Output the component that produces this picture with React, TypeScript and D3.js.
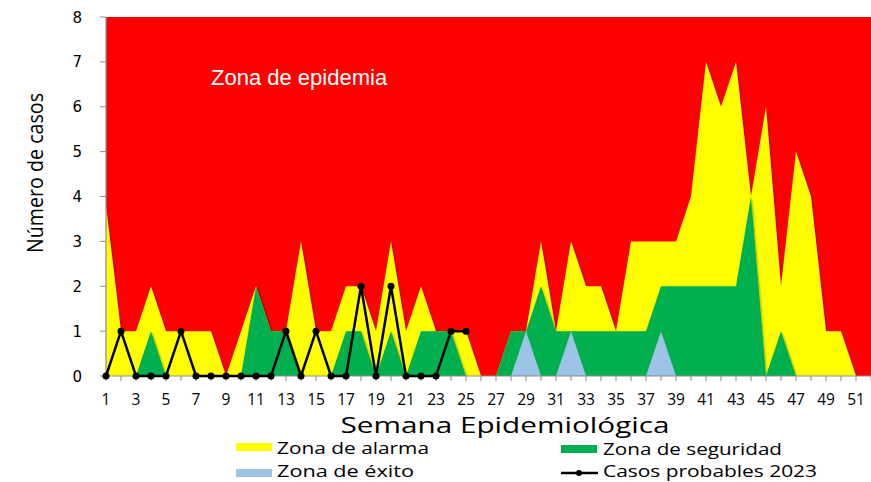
import React from "react";
import * as d3 from "d3";

const weeks = [1,2,3,4,5,6,7,8,9,10,11,12,13,14,15,16,17,18,19,20,21,22,23,24,25,26,27,28,29,30,31,32,33,34,35,36,37,38,39,40,41,42,43,44,45,46,47,48,49,50,51,52];
const epidemia = [8,8,8,8,8,8,8,8,8,8,8,8,8,8,8,8,8,8,8,8,8,8,8,8,8,8,8,8,8,8,8,8,8,8,8,8,8,8,8,8,8,8,8,8,8,8,8,8,8,8,8,8];
const alarma = [3.8,1,1,2,1,1,1,1,0,1,2,1,1,3,1,1,2,2,1,3,1,2,1,1,1,0,0,1,1,3,1,3,2,2,1,3,3,3,3,4,7,6,7,4,6,2,5,4,1,1,0,0];
const seguridad = [0,0,0,1,0,0,0,0,0,0,2,1,1,0,0,0,1,1,0,1,0,1,1,1,0,0,0,1,1,2,1,1,1,1,1,1,1,2,2,2,2,2,2,4,0,1,0,0,0,0,0,0];
const exito = [0,0,0,0,0,0,0,0,0,0,0,0,0,0,0,0,0,0,0,0,0,0,0,0,0,0,0,0,1,0,0,1,0,0,0,0,0,1,0,0,0,0,0,0,0,0,0,0,0,0,0,0];
const casos2023 = [0,1,0,0,0,1,0,0,0,0,0,0,1,0,1,0,0,2,0,2,0,0,0,1,1];
const yTicks = [0,1,2,3,4,5,6,7,8];
const xLabelWeeks = [1,3,5,7,9,11,13,15,17,19,21,23,25,27,29,31,33,35,37,39,41,43,45,47,49,51];

const W = 871, H = 482;
const x = d3.scaleLinear().domain([1, 52]).range([106, 871]);
const y = d3.scaleLinear().domain([0, 8]).range([376, 17]);

const areaOf = (vals: number[]) =>
  d3.area<number>().x((_, i) => x(weeks[i])).y0(y(0)).y1((d) => y(d))(vals) || "";

const casosLine = d3.line<number>().x((_, i) => x(weeks[i])).y((d) => y(d))(casos2023) || "";

const labelFont = "'Open Sans', 'Noto Sans', sans-serif";

export default function App() {
  return (
    <svg width={W} height={H} style={{ position: "absolute", left: 0, top: 0, background: "#fff" }}>
      <defs>
        <filter id="sh" x="-5%" y="-5%" width="110%" height="110%">
          <feDropShadow dx="1" dy="1" stdDeviation="1" floodColor="#000" floodOpacity="0.35" />
        </filter>
        <clipPath id="plot">
          <rect x={106} y={17} width={765} height={359} />
        </clipPath>
      </defs>
      <g clipPath="url(#plot)">
        <path d={areaOf(epidemia)} fill="#ff0000" />
        <path d={areaOf(alarma)} fill="#ffff00" filter="url(#sh)" />
        <path d={areaOf(seguridad)} fill="#00b050" filter="url(#sh)" />
        <path d={areaOf(exito)} fill="#9dc3e6" />
      </g>
      <text x={211} y={85} fill="#fff" fontFamily="'Liberation Sans', Arial, sans-serif" fontSize={22}>Zona de epidemia</text>
      <line x1={106} x2={106} y1={17} y2={376} stroke="#8c8c8c" strokeWidth={1.2} />
      <line x1={106} x2={871} y1={376} y2={376} stroke="#8c8c8c" strokeWidth={1.2} />
      {yTicks.map((t) => (
        <g key={"y" + t}>
          <line x1={100} x2={106} y1={y(t)} y2={y(t)} stroke="#8c8c8c" />
          <text x={82} y={y(t) + 5.5} textAnchor="end" fontFamily="'DejaVu Sans', Verdana, sans-serif" fontSize={15} fill="#000">{t}</text>
        </g>
      ))}
      {weeks.map((w) => (
        <line key={"xt" + w} x1={x(w)} x2={x(w)} y1={376} y2={381} stroke="#8c8c8c" />
      ))}
      {xLabelWeeks.map((w) => (
        <text key={"xl" + w} x={x(w)} y={405} textAnchor="middle" fontFamily={labelFont} fontSize={15.5} fill="#000">{w}</text>
      ))}
      <path d={casosLine} fill="none" stroke="#000" strokeWidth={2.5} />
      {casos2023.map((c, i) => (
        <circle key={"c" + i} cx={x(weeks[i])} cy={y(c)} r={3.5} fill="#000" />
      ))}
      <text x={505} y={433} textAnchor="middle" fontFamily={labelFont} fontSize={22} textLength={329} lengthAdjust="spacingAndGlyphs" fill="#000">Semana Epidemiológica</text>
      <text transform={`translate(43,173) rotate(-90)`} textAnchor="middle" fontFamily={labelFont} fontSize={22} textLength={160} lengthAdjust="spacingAndGlyphs" fill="#000">Número de casos</text>
      <rect x={236} y={443} width={36} height={8} fill="#ffff00" />
      <text x={277} y={454} fontFamily={labelFont} fontSize={16} textLength={152} lengthAdjust="spacingAndGlyphs" fill="#000">Zona de alarma</text>
      <rect x={561} y={445} width={36} height={8} fill="#00b050" />
      <text x={603} y={455} fontFamily={labelFont} fontSize={16} textLength={179} lengthAdjust="spacingAndGlyphs" fill="#000">Zona de seguridad</text>
      <rect x={236} y={469} width={36} height={8} fill="#9dc3e6" />
      <text x={277} y={477} fontFamily={labelFont} fontSize={16} textLength={137} lengthAdjust="spacingAndGlyphs" fill="#000">Zona de éxito</text>
      <line x1={561} x2={598} y1={473} y2={473} stroke="#000" strokeWidth={2.5} />
      <circle cx={579} cy={473} r={3} fill="#000" />
      <text x={603} y={477} fontFamily={labelFont} fontSize={16} textLength={214} lengthAdjust="spacingAndGlyphs" fill="#000">Casos probables 2023</text>
    </svg>
  );
}
